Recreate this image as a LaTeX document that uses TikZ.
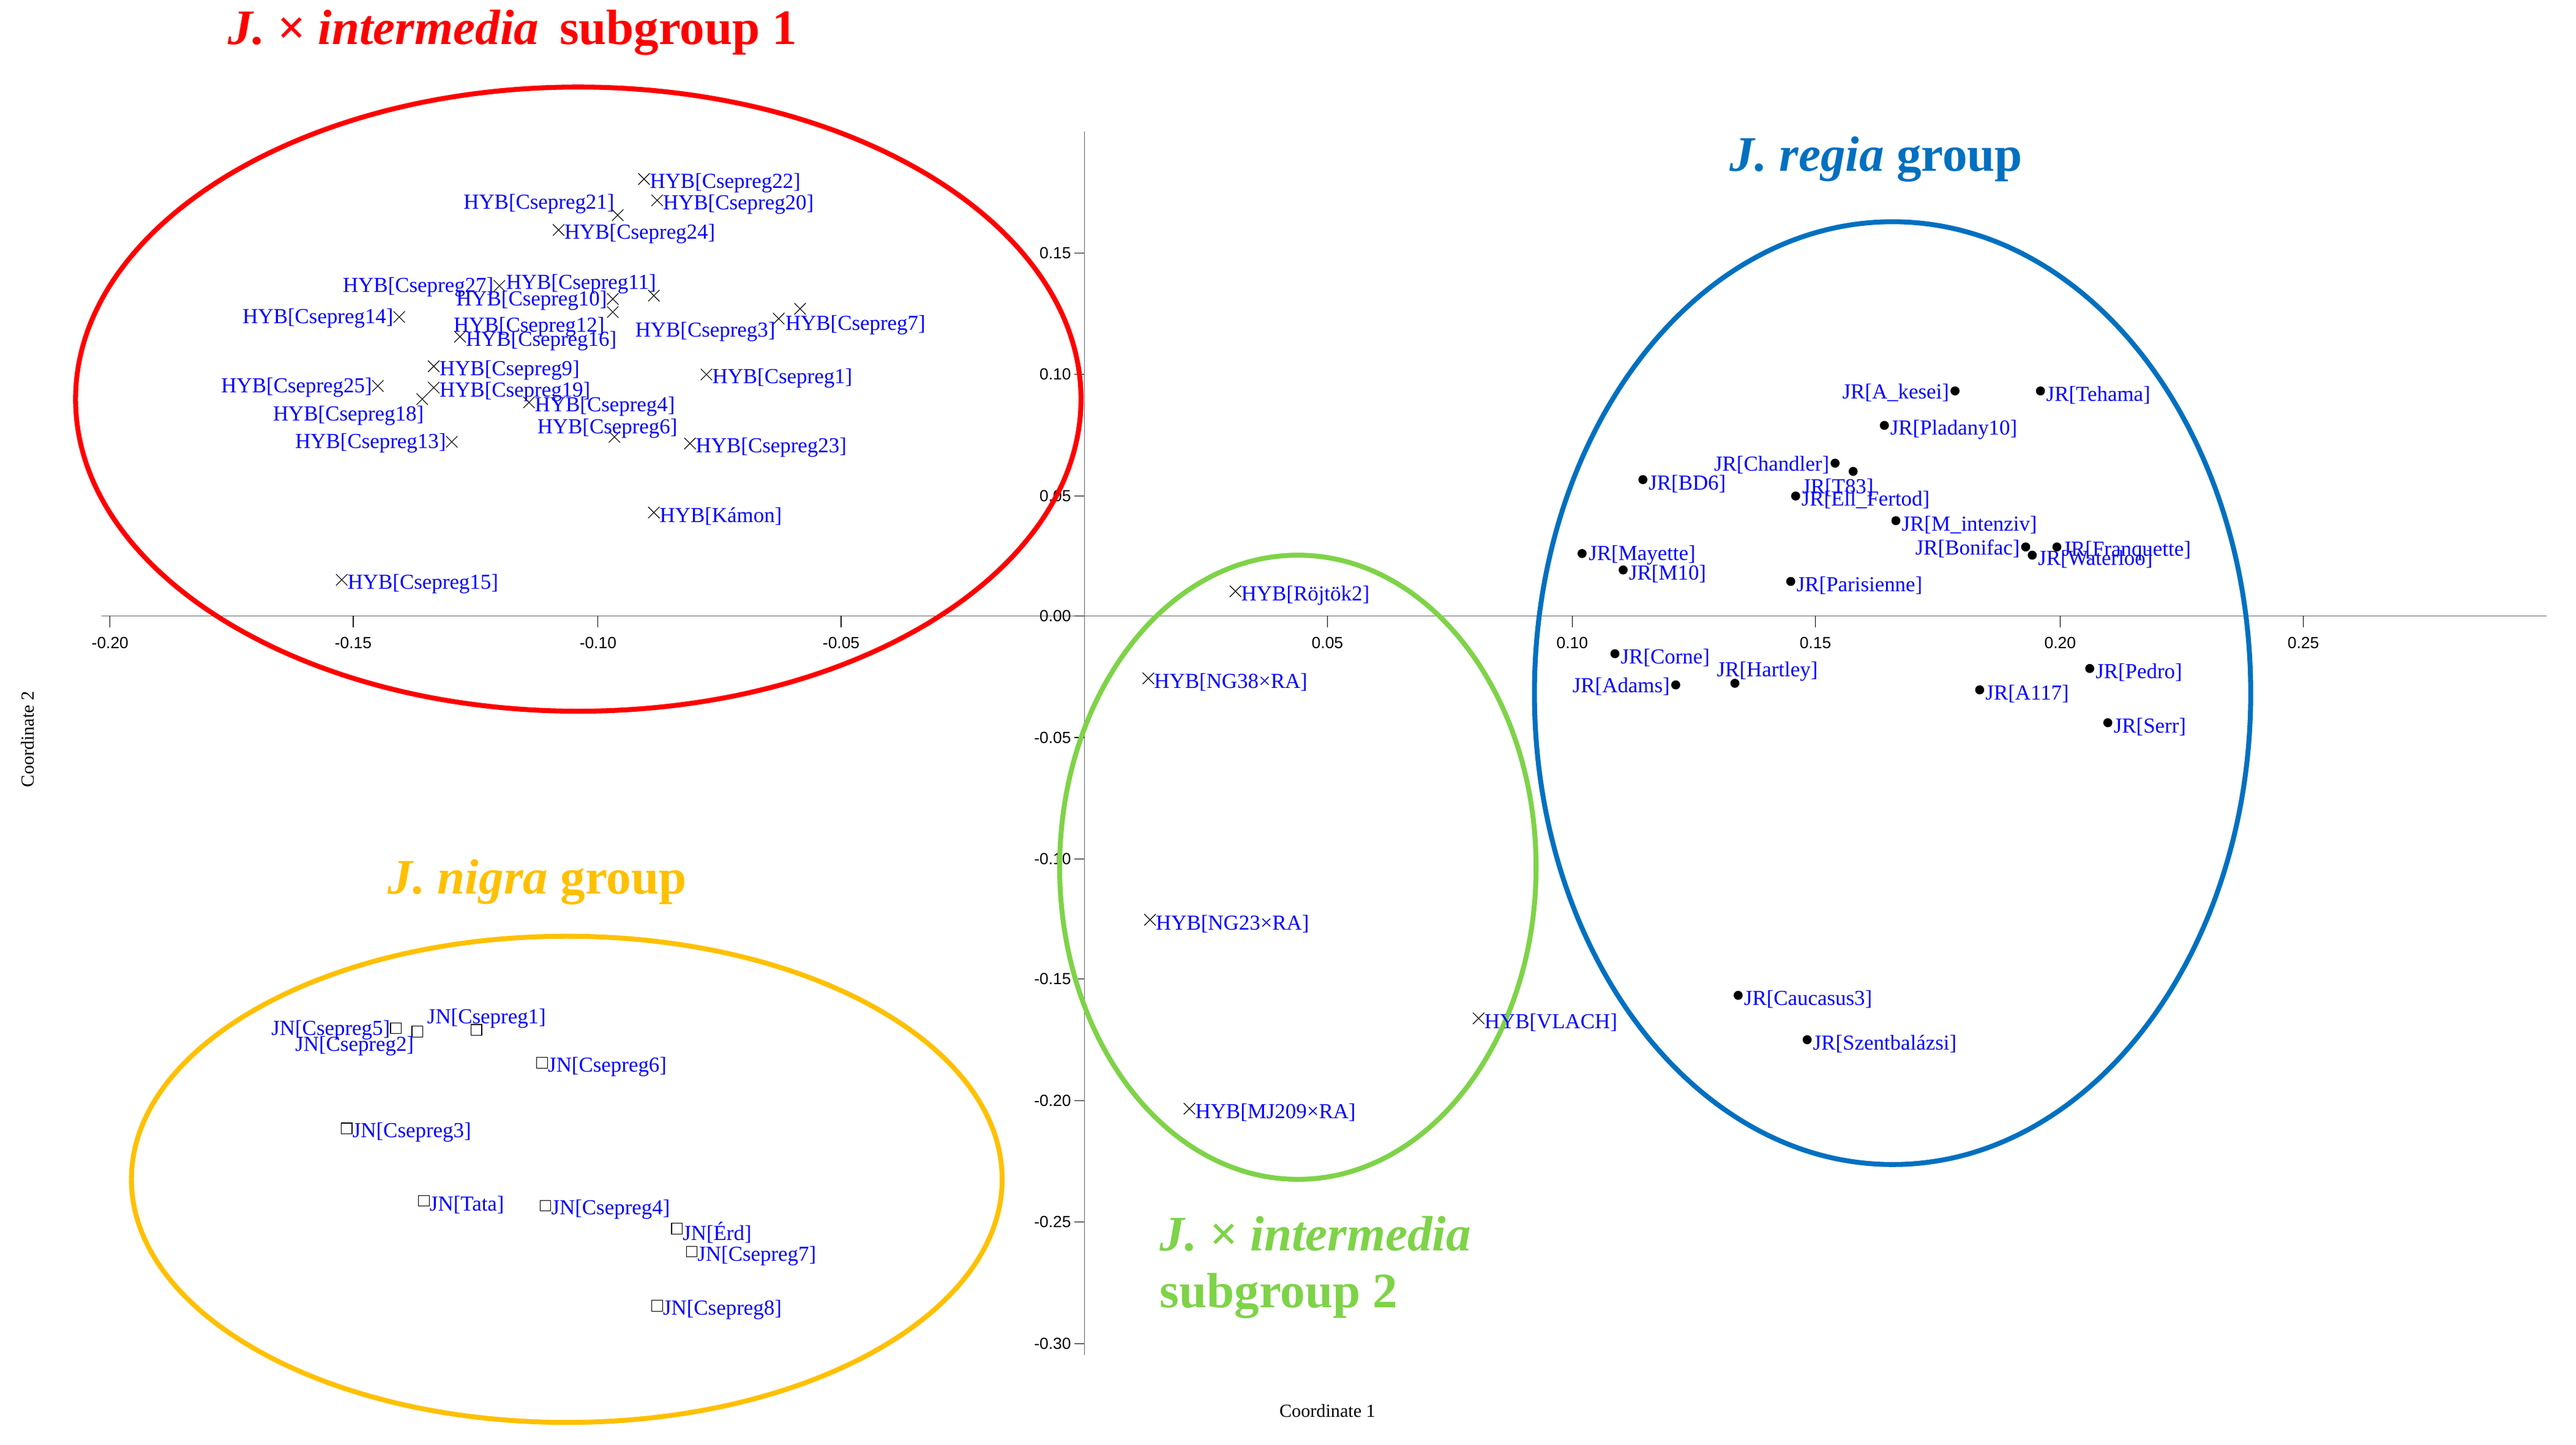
\documentclass[tikz,border=0pt]{standalone}
\usepackage{fontspec}
\setmainfont{Liberation Serif}
\newfontfamily\tickfont{Liberation Sans}
\usetikzlibrary{shapes.misc}
\definecolor{cred}{HTML}{FF0000}
\definecolor{cblue}{HTML}{0070C0}
\definecolor{cgreen}{HTML}{7ED348}
\definecolor{cyel}{HTML}{FFC000}
\definecolor{lblue}{HTML}{0000FF}
\newcommand\mkR[5]{\node[#1] (#2) at (#3,-#4) {};\node[lab,anchor=west] (#2l) at ([xshift=0.35cm,yshift=-0.25cm]#2.center) {#5};}
\newcommand\mkL[5]{\node[#1] (#2) at (#3,-#4) {};\node[lab,anchor=east] (#2l) at ([xshift=-0.35cm,yshift=-0.1cm]#2.center) {#5};}
\newcommand\mkO[5]{\node[#1] (#2) at (#3,-#4) {};}
\begin{document}
\begin{tikzpicture}[x=1cm,y=1cm,
  lab/.style={text=lblue,font=\fontsize{37}{40}\selectfont,inner sep=0pt},
  xm/.style={draw,cross out,minimum size=0.65cm,inner sep=0pt,line width=1.2pt},
  sq/.style={draw,rectangle,minimum size=0.65cm,inner sep=0pt,line width=1.2pt},
  dt/.style={circle,fill,minimum size=0.55cm,inner sep=0pt},
  grp/.style={line width=0.3cm},
  tick/.style={font=\tickfont\fontsize{28}{30}\selectfont,inner sep=0pt},
  ttl/.style={font=\bfseries\fontsize{86}{90}\selectfont,inner sep=0pt}]
\useasboundingbox (0,0) rectangle (156.8,-87.94);
% axes
\draw[gray!80!black,line width=1.5pt] (6.2,-37.5) -- (155,-37.5);
\draw[gray!80!black,line width=1.5pt] (66,-8) -- (66,-82.5);
\foreach \v/\p in {-0.20/6.7,-0.15/21.5,-0.10/36.4,-0.05/51.2,0.05/80.8,0.10/95.7,0.15/110.5,0.20/125.4,0.25/140.2}
  {\draw[line width=1.2pt] (\p,-37.5) -- (\p,-38.2); \node[tick,anchor=north] at (\p,-38.8) {\v};}
\foreach \v/\p in {0.15/15.4,0.10/22.8,0.05/30.2,0.00/37.5,-0.05/44.9,-0.10/52.3,-0.15/59.6,-0.20/67.0,-0.25/74.4,-0.30/81.8}
  {\draw[line width=1.2pt] (66,-\p) -- (65.4,-\p); \node[tick,anchor=east] at (65.2,-\p) {\v};}
\node[font=\fontsize{32}{34}\selectfont] (ax1) at (80.8,-85.9) {Coordinate 1};
\node[font=\fontsize{32}{34}\selectfont,rotate=90] (ax2) at (1.7,-45) {Coordinate 2};
% ellipses
\draw[grp,cred] (35.2,-24.3) ellipse [x radius=30.6,y radius=19.0];
\draw[grp,cblue] (115.2,-42.2) ellipse [x radius=21.8,y radius=28.7];
\draw[grp,cgreen] (79.0,-52.8) ellipse [x radius=14.5,y radius=19.0];
\draw[grp,cyel] (34.5,-71.8) ellipse [x radius=26.5,y radius=14.8];
% titles
\node[ttl,text=cred] (t1) at (31.2,-2.0) {\textit{J.} × \textit{intermedia}\, subgroup 1};
\node[ttl,text=cblue] (t2) at (114.2,-9.7) {\textit{J. regia} group};
\node[ttl,text=cyel] (t3) at (32.7,-53.7) {\textit{J. nigra} group};
\node[ttl,text=cgreen,anchor=west] (t4) at (70.6,-75.1) {\textit{J.} × \textit{intermedia}};
\node[ttl,text=cgreen,anchor=west] (t5) at (70.6,-78.9) {subgroup 2};
% red group
\mkR{xm}{c22}{39.2}{10.9}{HYB[Csepreg22]}
\mkR{xm}{c20}{40.0}{12.2}{HYB[Csepreg20]}
\mkO{xm}{c21}{37.6}{13.1}{}
\node[lab,anchor=east] (c21l) at (37.4,-12.4) {HYB[Csepreg21]};
\mkR{xm}{c24}{34.0}{14.0}{HYB[Csepreg24]}
\mkL{xm}{c27}{30.4}{17.4}{HYB[Csepreg27]}
\node[lab,anchor=west] (c11l) at (30.8,-17.3) {HYB[Csepreg11]};
\mkL{xm}{c10}{37.3}{18.2}{HYB[Csepreg10]}
\mkO{xm}{c12}{37.3}{19.0}{}
\node[lab,anchor=east] (c12l) at (36.8,-19.9) {HYB[Csepreg12]};
\mkO{xm}{cx}{39.8}{18.0}{}
\mkL{xm}{c14}{24.3}{19.3}{HYB[Csepreg14]}
\mkR{xm}{c16}{28.0}{20.5}{HYB[Csepreg16]}
\mkO{xm}{c3}{47.4}{19.4}{}
\node[lab,anchor=east] (c3l) at (47.2,-20.2) {HYB[Csepreg3]};
\mkO{xm}{c7}{48.7}{18.8}{}
\node[lab,anchor=west] (c7l) at (47.8,-19.8) {HYB[Csepreg7]};
\mkR{xm}{c9}{26.4}{22.3}{HYB[Csepreg9]}
\mkR{xm}{c19}{26.4}{23.6}{HYB[Csepreg19]}
\mkL{xm}{c25}{23.0}{23.5}{HYB[Csepreg25]}
\mkO{xm}{c18}{25.7}{24.3}{}
\node[lab,anchor=east] (c18l) at (25.8,-25.3) {HYB[Csepreg18]};
\mkR{xm}{c4}{32.2}{24.5}{HYB[Csepreg4]}
\mkO{xm}{c6}{37.4}{26.6}{}
\node[lab,anchor=west] (c6l) at (32.7,-26.1) {HYB[Csepreg6]};
\mkL{xm}{c13}{27.5}{26.9}{HYB[Csepreg13]}
\mkR{xm}{c23}{42.0}{27.0}{HYB[Csepreg23]}
\mkR{xm}{c1}{43.0}{22.8}{HYB[Csepreg1]}
\mkR{xm}{ckam}{39.8}{31.2}{HYB[Kámon]}
\mkR{xm}{c15}{20.8}{35.3}{HYB[Csepreg15]}
% green group
\mkR{xm}{rojt}{75.2}{36.0}{HYB[Röjtök2]}
\mkR{xm}{ng38}{69.9}{41.3}{HYB[NG38×RA]}
\mkR{xm}{ng23}{70.0}{56.0}{HYB[NG23×RA]}
\mkR{xm}{mj}{72.4}{67.5}{HYB[MJ209×RA]}
\mkR{xm}{vla}{90.0}{62.0}{HYB[VLACH]}
% yellow group
\mkL{sq}{n5}{24.1}{62.6}{JN[Csepreg5]}
\mkO{sq}{n2}{25.4}{62.8}{}
\node[lab,anchor=east] (n2l) at (25.2,-63.7) {JN[Csepreg2]};
\mkO{sq}{n1}{29.0}{62.7}{}
\node[lab,anchor=west] (n1l) at (26.0,-62.0) {JN[Csepreg1]};
\mkR{sq}{n6}{33.0}{64.7}{JN[Csepreg6]}
\mkR{sq}{n3}{21.1}{68.7}{JN[Csepreg3]}
\mkR{sq}{ntata}{25.8}{73.1}{JN[Tata]}
\mkR{sq}{n4}{33.2}{73.4}{JN[Csepreg4]}
\mkR{sq}{nerd}{41.2}{74.8}{JN[Érd]}
\mkR{sq}{n7}{42.1}{76.2}{JN[Csepreg7]}
\mkR{sq}{n8}{40.0}{79.5}{JN[Csepreg8]}
% blue group
\mkL{dt}{akes}{119.0}{23.8}{JR[A\_kesei]}
\mkR{dt}{teh}{124.2}{23.8}{JR[Tehama]}
\mkR{dt}{plad}{114.7}{25.9}{JR[Pladany10]}
\mkL{dt}{chan}{111.7}{28.2}{JR[Chandler]}
\mkO{dt}{t83}{112.8}{28.7}{}
\node[lab,anchor=west] (t83l) at (109.7,-29.7) {JR[T83]};
\mkR{dt}{bd6}{100.0}{29.2}{JR[BD6]}
\mkR{dt}{ell}{109.3}{30.2}{JR[Ell\_Fertod]}
\mkR{dt}{mint}{115.4}{31.7}{JR[M\_intenziv]}
\mkL{dt}{boni}{123.3}{33.3}{JR[Bonifac]}
\mkR{dt}{wat}{123.7}{33.8}{JR[Waterloo]}
\mkR{dt}{fran}{125.2}{33.3}{JR[Franquette]}
\mkO{dt}{may}{96.3}{33.7}{}
\node[lab,anchor=west] (mayl) at (96.7,-33.8) {JR[Mayette]};
\mkR{dt}{m10}{98.8}{34.7}{JR[M10]}
\mkR{dt}{par}{109.0}{35.4}{JR[Parisienne]}
\mkR{dt}{corn}{98.3}{39.8}{JR[Corne]}
\mkO{dt}{hart}{105.6}{41.6}{}
\node[lab,anchor=west] (hartl) at (104.5,-40.9) {JR[Hartley]};
\mkL{dt}{adam}{102.0}{41.7}{JR[Adams]}
\mkR{dt}{ped}{127.2}{40.7}{JR[Pedro]}
\mkR{dt}{a117}{120.5}{42.0}{JR[A117]}
\mkR{dt}{serr}{128.3}{44.0}{JR[Serr]}
\mkR{dt}{cauc}{105.8}{60.6}{JR[Caucasus3]}
\mkR{dt}{szent}{110.0}{63.3}{JR[Szentbalázsi]}
\end{tikzpicture}
\end{document}
